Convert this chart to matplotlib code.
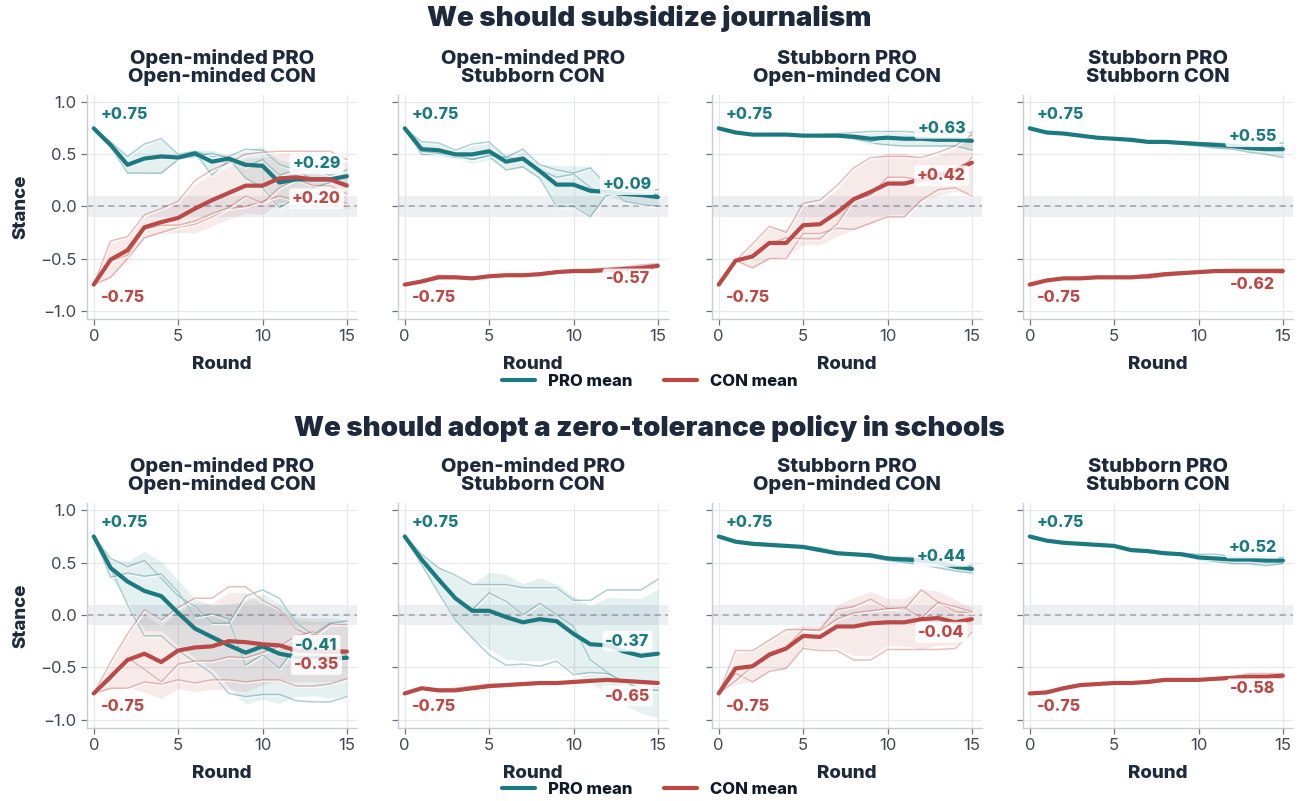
import numpy as np
import matplotlib
matplotlib.use("Agg")
import matplotlib.pyplot as plt
import matplotlib.patheffects as pe
from matplotlib.lines import Line2D

plt.rcParams['font.family'] = ['Inter', 'DejaVu Sans']
plt.rcParams['axes.unicode_minus'] = True

ROUNDS = np.arange(16)

TOPICS = ["We should subsidize journalism",
          "We should adopt a zero-tolerance policy in schools"]
PAIRINGS = ["Open-minded PRO\nOpen-minded CON",
            "Open-minded PRO\nStubborn CON",
            "Stubborn PRO\nOpen-minded CON",
            "Stubborn PRO\nStubborn CON"]

# ---- Topic 1: subsidize journalism (three debate runs per side) ----
j_omom_pro = [
    [0.75, 0.62, 0.48, 0.60, 0.65, 0.50, 0.53, 0.48, 0.48, 0.55, 0.54, 0.40, 0.35, 0.35, 0.30, 0.35],
    [0.75, 0.58, 0.32, 0.32, 0.32, 0.45, 0.52, 0.30, 0.44, 0.38, 0.45, 0.30, 0.35, 0.25, 0.25, 0.22],
    [0.75, 0.57, 0.40, 0.46, 0.47, 0.46, 0.48, 0.51, 0.46, 0.27, 0.18, -0.01, 0.08, 0.18, 0.23, 0.30],
]
j_omom_con = [
    [-0.75, -0.33, -0.29, -0.08, -0.02, 0.05, 0.25, 0.35, 0.42, 0.50, 0.52, 0.53, 0.53, 0.53, 0.53, 0.45],
    [-0.75, -0.68, -0.50, -0.30, -0.25, -0.20, -0.17, -0.10, -0.02, 0.00, 0.05, 0.10, 0.05, 0.05, 0.05, 0.03],
    [-0.75, -0.52, -0.47, -0.22, -0.18, -0.18, -0.14, -0.07, -0.01, 0.10, 0.03, 0.18, 0.26, 0.20, 0.20, 0.12],
]
j_omst_pro = [
    [0.75, 0.62, 0.61, 0.54, 0.60, 0.62, 0.47, 0.55, 0.40, 0.35, 0.32, 0.37, 0.20, 0.05, 0.02, 0.00],
    [0.75, 0.50, 0.50, 0.47, 0.45, 0.48, 0.35, 0.38, 0.27, 0.00, 0.00, -0.10, 0.12, 0.15, 0.16, 0.16],
    [0.75, 0.53, 0.51, 0.49, 0.45, 0.49, 0.47, 0.45, 0.35, 0.28, 0.31, 0.18, 0.10, 0.16, 0.15, 0.11],
]
j_omst_con = [
    [-0.75, -0.71, -0.66, -0.67, -0.68, -0.66, -0.65, -0.65, -0.64, -0.62, -0.61, -0.60, -0.59, -0.58, -0.56, -0.55],
    [-0.75, -0.73, -0.69, -0.69, -0.70, -0.68, -0.67, -0.67, -0.66, -0.64, -0.63, -0.63, -0.62, -0.61, -0.60, -0.58],
    [-0.75, -0.72, -0.69, -0.68, -0.69, -0.67, -0.66, -0.66, -0.65, -0.63, -0.62, -0.63, -0.62, -0.61, -0.61, -0.58],
]
j_stom_pro = [
    [0.75, 0.71, 0.69, 0.69, 0.69, 0.68, 0.69, 0.70, 0.71, 0.72, 0.72, 0.72, 0.71, 0.70, 0.70, 0.71],
    [0.75, 0.71, 0.69, 0.69, 0.69, 0.68, 0.68, 0.67, 0.65, 0.61, 0.59, 0.58, 0.58, 0.58, 0.58, 0.54],
    [0.75, 0.71, 0.69, 0.69, 0.69, 0.68, 0.67, 0.67, 0.65, 0.62, 0.67, 0.65, 0.66, 0.64, 0.64, 0.64],
]
j_stom_con = [
    [-0.75, -0.52, -0.36, -0.19, -0.25, 0.03, 0.06, 0.20, 0.37, 0.47, 0.48, 0.48, 0.47, 0.52, 0.58, 0.69],
    [-0.75, -0.52, -0.59, -0.50, -0.50, -0.26, -0.26, -0.21, -0.22, -0.16, -0.10, -0.10, 0.06, 0.16, 0.18, 0.10],
    [-0.75, -0.52, -0.49, -0.36, -0.30, -0.31, -0.31, -0.17, 0.06, 0.11, 0.28, 0.28, 0.25, 0.22, 0.29, 0.47],
]
j_stst_pro = [
    [0.75, 0.71, 0.70, 0.68, 0.66, 0.65, 0.64, 0.63, 0.62, 0.62, 0.61, 0.61, 0.60, 0.59, 0.60, 0.61],
    [0.75, 0.71, 0.70, 0.68, 0.66, 0.65, 0.63, 0.61, 0.61, 0.60, 0.58, 0.56, 0.55, 0.52, 0.50, 0.47],
    [0.75, 0.71, 0.70, 0.68, 0.66, 0.65, 0.65, 0.62, 0.63, 0.61, 0.61, 0.60, 0.59, 0.57, 0.55, 0.57],
]
j_stst_con = [
    [-0.75, -0.71, -0.69, -0.69, -0.68, -0.68, -0.67, -0.65, -0.64, -0.63, -0.62, -0.61, -0.60, -0.60, -0.60, -0.60],
    [-0.75, -0.71, -0.69, -0.69, -0.68, -0.68, -0.68, -0.69, -0.67, -0.65, -0.64, -0.63, -0.63, -0.63, -0.63, -0.64],
    [-0.75, -0.71, -0.69, -0.69, -0.68, -0.68, -0.69, -0.67, -0.64, -0.64, -0.63, -0.62, -0.63, -0.63, -0.63, -0.62],
]

# ---- Topic 2: zero-tolerance policy in schools ----
z_omom_pro = [
    [0.75, 0.54, 0.46, 0.52, 0.35, 0.18, 0.08, -0.08, -0.08, 0.18, 0.24, 0.16, -0.08, -0.19, -0.08, -0.06],
    [0.75, 0.45, 0.10, -0.20, -0.20, -0.34, -0.45, -0.56, -0.75, -0.78, -0.76, -0.76, -0.82, -0.83, -0.83, -0.78],
    [0.75, 0.36, 0.40, 0.37, 0.39, 0.22, -0.02, 0.01, -0.04, -0.48, -0.38, -0.51, -0.30, -0.18, -0.32, -0.39],
]
z_omom_con = [
    [-0.75, -0.45, -0.18, 0.05, -0.05, 0.07, 0.16, 0.16, 0.27, 0.27, 0.14, 0.05, -0.14, -0.21, -0.09, -0.09],
    [-0.75, -0.70, -0.70, -0.64, -0.66, -0.62, -0.65, -0.62, -0.62, -0.64, -0.62, -0.62, -0.68, -0.68, -0.66, -0.61],
    [-0.75, -0.62, -0.41, -0.52, -0.64, -0.47, -0.44, -0.44, -0.40, -0.41, -0.36, -0.30, -0.20, -0.16, -0.30, -0.35],
]
z_omst_pro = [
    [0.75, 0.58, 0.45, 0.38, 0.29, 0.29, 0.29, 0.26, 0.26, 0.26, 0.14, 0.14, 0.24, 0.24, 0.24, 0.34],
    [0.75, 0.53, 0.36, 0.15, 0.05, 0.21, 0.13, 0.00, 0.11, 0.00, -0.11, -0.43, -0.55, -0.65, -0.70, -0.73],
    [0.75, 0.48, 0.21, -0.05, -0.22, -0.38, -0.48, -0.47, -0.49, -0.44, -0.57, -0.55, -0.56, -0.64, -0.71, -0.72],
]
z_omst_con = [
    [-0.75, -0.70, -0.71, -0.70, -0.68, -0.66, -0.66, -0.65, -0.65, -0.65, -0.63, -0.62, -0.62, -0.62, -0.63, -0.64],
    [-0.75, -0.70, -0.72, -0.73, -0.71, -0.69, -0.68, -0.67, -0.66, -0.64, -0.64, -0.63, -0.62, -0.64, -0.65, -0.66],
    [-0.75, -0.70, -0.73, -0.73, -0.71, -0.69, -0.67, -0.66, -0.64, -0.66, -0.65, -0.64, -0.62, -0.63, -0.64, -0.65],
]
z_stom_pro = [
    [0.75, 0.70, 0.69, 0.68, 0.67, 0.66, 0.64, 0.60, 0.59, 0.58, 0.55, 0.54, 0.53, 0.52, 0.49, 0.47],
    [0.75, 0.70, 0.67, 0.66, 0.65, 0.64, 0.61, 0.58, 0.57, 0.55, 0.52, 0.50, 0.48, 0.45, 0.42, 0.40],
    [0.75, 0.70, 0.68, 0.67, 0.66, 0.65, 0.61, 0.59, 0.58, 0.58, 0.55, 0.55, 0.55, 0.53, 0.47, 0.45],
]
z_stom_con = [
    [-0.75, -0.34, -0.34, -0.24, -0.14, -0.14, -0.14, 0.05, 0.08, 0.15, 0.06, 0.05, 0.24, 0.12, 0.03, 0.02],
    [-0.75, -0.56, -0.64, -0.54, -0.51, -0.32, -0.34, -0.34, -0.43, -0.43, -0.33, -0.33, -0.33, -0.33, -0.32, -0.17],
    [-0.75, -0.63, -0.49, -0.36, -0.31, -0.14, -0.15, -0.04, 0.02, 0.04, 0.06, 0.07, -0.03, 0.12, 0.08, 0.03],
]
z_stst_pro = [
    [0.75, 0.71, 0.69, 0.68, 0.67, 0.66, 0.62, 0.61, 0.60, 0.59, 0.58, 0.58, 0.56, 0.56, 0.56, 0.55],
    [0.75, 0.71, 0.69, 0.68, 0.67, 0.66, 0.61, 0.60, 0.58, 0.57, 0.53, 0.51, 0.49, 0.49, 0.47, 0.49],
    [0.75, 0.71, 0.69, 0.68, 0.67, 0.66, 0.63, 0.62, 0.59, 0.58, 0.54, 0.53, 0.54, 0.54, 0.53, 0.52],
]
z_stst_con = [
    [-0.75, -0.73, -0.69, -0.66, -0.66, -0.65, -0.65, -0.63, -0.61, -0.61, -0.62, -0.60, -0.59, -0.56, -0.56, -0.56],
    [-0.75, -0.75, -0.71, -0.68, -0.66, -0.65, -0.65, -0.65, -0.63, -0.63, -0.62, -0.62, -0.61, -0.61, -0.61, -0.60],
    [-0.75, -0.74, -0.70, -0.67, -0.66, -0.65, -0.65, -0.64, -0.62, -0.62, -0.62, -0.61, -0.60, -0.60, -0.60, -0.58],
]

PANELS = [
    [(j_omom_pro, j_omom_con), (j_omst_pro, j_omst_con), (j_stom_pro, j_stom_con), (j_stst_pro, j_stst_con)],
    [(z_omom_pro, z_omom_con), (z_omst_pro, z_omst_con), (z_stom_pro, z_stom_con), (z_stst_pro, z_stst_con)],
]

PRO_COLOR = "#1b7a80"
CON_COLOR = "#b94a47"
INK = "#1e293b"
TICK_INK = "#3f4654"
GRID = "#e6e8ec"
SPINE = "#c9ccd3"

W, H = 1299, 801
fig = plt.figure(figsize=(W / 100, H / 100), dpi=100)
fig.patch.set_facecolor("white")

col_left = [87, 398, 712, 1023]
ax_w = 270
rows = [(95, 319), (503, 728)]   # top, bottom in pixels
row_title_y = [19, 428]
legend_y = [381, 789]


def fmt(v):
    return f"{v:+.2f}"


def draw_side(ax, runs, color):
    arr = np.array(runs)
    mean = arr.mean(axis=0)
    sd = arr.std(axis=0, ddof=1)
    ax.fill_between(ROUNDS, mean - sd, mean + sd, color=color, alpha=0.11, lw=0, zorder=2)
    for r in arr:
        ax.plot(ROUNDS, r, color=color, lw=1.1, alpha=0.35, zorder=3,
                path_effects=[pe.SimpleLineShadow(offset=(0.6, -0.9), shadow_color="white",
                                                  alpha=0.8), pe.Normal()])
    ax.plot(ROUNDS, mean, color=color, lw=3.0, zorder=5, solid_capstyle="round",
            solid_joinstyle="round")
    return mean


for ri, (top, bot) in enumerate(rows):
    fig.text(0.5, 1 - row_title_y[ri] / H, TOPICS[ri], ha="center", va="center",
             fontsize=20, weight="black", color=INK)
    for ci, left in enumerate(col_left):
        ax = fig.add_axes([left / W, 1 - bot / H, ax_w / W, (bot - top) / H])
        pro_runs, con_runs = PANELS[ri][ci]

        ax.axhspan(-0.1, 0.1, color="#e9ebef", alpha=0.8, lw=0, zorder=0)
        ax.axhline(0, color="#9aa1ad", lw=1.1, ls=(0, (4, 3)), zorder=1)

        pro_mean = draw_side(ax, pro_runs, PRO_COLOR)
        con_mean = draw_side(ax, con_runs, CON_COLOR)

        lbl = dict(fontsize=11.5, weight="heavy", zorder=7)
        ax.text(0.4, pro_mean[0] + 0.13, fmt(pro_mean[0]), color=PRO_COLOR,
                ha="left", va="center", **lbl)
        ax.text(0.4, con_mean[0] - 0.12, fmt(con_mean[0]), color=CON_COLOR,
                ha="left", va="center", **lbl)
        box = dict(boxstyle="round,pad=0.18", fc="white", ec="none", alpha=0.85)
        ax.text(13.2, pro_mean[-1] + 0.12, fmt(pro_mean[-1]), color=PRO_COLOR,
                ha="center", va="center", bbox=box, **lbl)
        ax.text(13.2, con_mean[-1] - 0.125, fmt(con_mean[-1]), color=CON_COLOR,
                ha="center", va="center", bbox=box, **lbl)

        ax.set_xlim(-0.4, 15.6)
        ax.set_ylim(-1.08, 1.07)
        ax.set_xticks([0, 5, 10, 15])
        ax.set_yticks([-1.0, -0.5, 0.0, 0.5, 1.0])
        ax.grid(True, color=GRID, lw=0.9, zorder=0)
        ax.set_axisbelow(True)
        for s in ("top", "right"):
            ax.spines[s].set_visible(False)
        for s in ("left", "bottom"):
            ax.spines[s].set_color(SPINE)
            ax.spines[s].set_linewidth(1.0)
        ax.tick_params(colors=TICK_INK, labelsize=12, length=4, width=0.9,
                       color="#6b7280")
        if ci == 0:
            ax.set_yticklabels(["\u22121.0", "\u22120.5", "0.0", "0.5", "1.0"])
            ax.set_ylabel("Stance", fontsize=13.5, weight="heavy", color=INK, labelpad=8)
        else:
            ax.set_yticklabels([])
        ax.set_xlabel("Round", fontsize=13.5, weight="heavy", color=INK, labelpad=8)
        ax.set_title(PAIRINGS[ci], fontsize=14.5, weight="heavy", color=INK,
                     pad=9, linespacing=1.0)

    handles = [Line2D([0], [0], color=PRO_COLOR, lw=3, solid_capstyle="round"),
               Line2D([0], [0], color=CON_COLOR, lw=3, solid_capstyle="round")]
    leg = fig.legend(handles, ["PRO mean", "CON mean"], loc="center",
                     bbox_to_anchor=(0.5, 1 - legend_y[ri] / H), ncol=2, frameon=False,
                     prop=dict(weight="heavy", size=12), handlelength=2.0,
                     columnspacing=1.9, handletextpad=0.75)
    for t in leg.get_texts():
        t.set_color("#111827")

fig.savefig("out.png", dpi=100, facecolor="white")
